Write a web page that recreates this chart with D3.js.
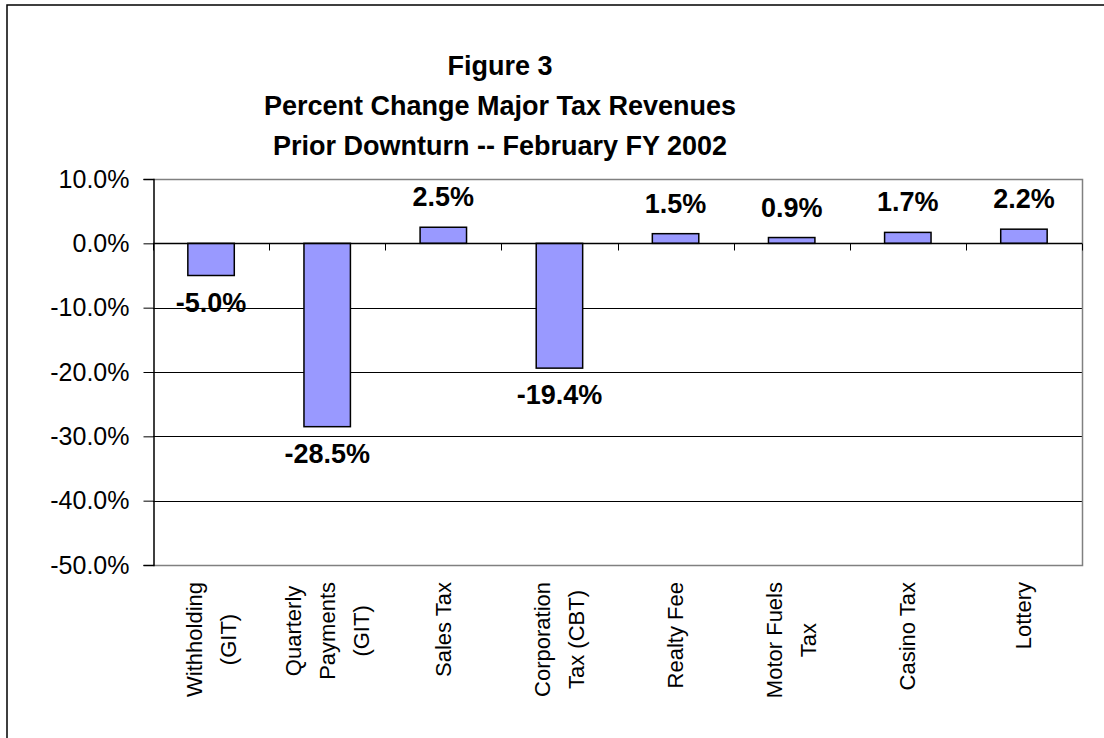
<!DOCTYPE html>
<html>
<head>
<meta charset="utf-8">
<script src="https://cdn.jsdelivr.net/npm/d3@7"></script>
<style>
  html, body { margin: 0; padding: 0; background: #fff; }
  svg { display: block; }
  text { font-family: Arial, "Liberation Sans", Helvetica, sans-serif; fill: #000; }
</style>
</head>
<body>
<svg id="chart" width="1104" height="738"></svg>
<script>
// Revenue categories (multi-line labels) and their percent change
const categories = [
  "Withholding (GIT)", "Quarterly Payments (GIT)", "Sales Tax", "Corporation Tax (CBT)",
  "Realty Fee", "Motor Fuels Tax", "Casino Tax", "Lottery"
];
const categoryLines = [
  ["Withholding", "(GIT)"],
  ["Quarterly", "Payments", "(GIT)"],
  ["Sales Tax"],
  ["Corporation", "Tax (CBT)"],
  ["Realty Fee"],
  ["Motor Fuels", "Tax"],
  ["Casino Tax"],
  ["Lottery"]
];
const percentChange = [-5.0, -28.5, 2.5, -19.4, 1.5, 0.9, 1.7, 2.2];
const yTicks = [10, 0, -10, -20, -30, -40, -50];
const titleLines = [
  "Figure 3",
  "Percent Change Major Tax Revenues",
  "Prior Downturn -- February FY 2002"
];

const svg = d3.select("#chart");

// Plot area bounds
const plotLeft = 153, plotRight = 1082, plotTop = 179, plotBottom = 565;

const x = d3.scaleBand()
  .domain(categories)
  .range([plotLeft, plotRight])
  .paddingInner(0.6)
  .paddingOuter(0.3);

const y = d3.scaleLinear().domain([-50, 10]).range([plotBottom, plotTop]);

// Percent format with a plain hyphen for negatives
const locale = d3.formatLocale({ decimal: ".", thousands: ",", grouping: [3], currency: ["$", ""], minus: "-" });
const fmt = v => locale.format(".1f")(v) + "%";

// Outer chart frame
svg.append("rect")
  .attr("x", 7).attr("y", 5)
  .attr("width", 1130).attr("height", 780)
  .attr("fill", "none").attr("stroke", "#000").attr("stroke-width", 1.5);

// Title
svg.append("g").selectAll("text")
  .data(titleLines)
  .join("text")
  .attr("x", 500)
  .attr("y", (d, i) => 75 + i * 40)
  .attr("text-anchor", "middle")
  .attr("font-size", 27)
  .attr("font-weight", "bold")
  .text(d => d);

// Horizontal gridlines
svg.append("g").selectAll("line")
  .data(yTicks.filter(t => t !== 10 && t !== -50 && t !== 0))
  .join("line")
  .attr("x1", plotLeft).attr("x2", plotRight)
  .attr("y1", d => Math.round(y(d)) + 0.5).attr("y2", d => Math.round(y(d)) + 0.5)
  .attr("stroke", "#000").attr("stroke-width", 1);

// Plot area border (top, right, bottom)
svg.append("path")
  .attr("d", `M${plotLeft},${plotTop + 0.5}H${plotRight + 0.5}V${plotBottom + 0.5}H${plotLeft}`)
  .attr("fill", "none").attr("stroke", "#808080").attr("stroke-width", 1.5);

// Y axis
const yAxis = d3.axisLeft(y)
  .tickValues(yTicks)
  .tickSize(10)
  .tickPadding(14)
  .tickFormat(fmt);

const gy = svg.append("g")
  .attr("transform", `translate(${plotLeft + 0.5},0)`)
  .call(yAxis);
gy.select(".domain").attr("stroke", "#000").attr("stroke-width", 1.5);
gy.selectAll(".tick line").attr("stroke", "#000").attr("stroke-width", 1);
gy.selectAll(".tick text")
  .attr("font-size", 25)
  .attr("font-family", "Arial, 'Liberation Sans', sans-serif")
  .attr("fill", "#000");

// Bars
svg.append("g").selectAll("rect")
  .data(percentChange)
  .join("rect")
  .attr("x", (d, i) => x(categories[i]))
  .attr("width", x.bandwidth())
  .attr("y", d => y(Math.max(0, d)))
  .attr("height", d => Math.abs(y(d) - y(0)))
  .attr("fill", "#9999FF")
  .attr("stroke", "#000")
  .attr("stroke-width", 1.5);

// Category axis along the zero line, with ticks between categories
const step = x.step();
const boundaries = d3.range(categories.length + 1)
  .map(i => plotLeft + i * step);
const y0 = Math.round(y(0)) + 0.5;
svg.append("line")
  .attr("x1", plotLeft).attr("x2", plotRight)
  .attr("y1", y0).attr("y2", y0)
  .attr("stroke", "#000").attr("stroke-width", 1.5);
svg.append("g").selectAll("line")
  .data(boundaries)
  .join("line")
  .attr("x1", d => Math.round(d) + 0.5).attr("x2", d => Math.round(d) + 0.5)
  .attr("y1", y0).attr("y2", y0 + 7)
  .attr("stroke", "#000").attr("stroke-width", 1);

// Value labels
svg.append("g").selectAll("text")
  .data(percentChange)
  .join("text")
  .attr("x", (d, i) => x(categories[i]) + x.bandwidth() / 2)
  .attr("y", d => d >= 0 ? y(d) - 21 : y(d) + 36)
  .attr("text-anchor", "middle")
  .attr("font-size", 27)
  .attr("font-weight", "bold")
  .text(fmt);

// Rotated category labels, top-aligned blocks with centred lines
const labelTop = 582;
const lineGap = 34;
const labelGroups = svg.append("g").selectAll("g")
  .data(categoryLines)
  .join("g");

labelGroups.each(function (lines, i) {
  const g = d3.select(this);
  const cx = x(categories[i]) + x.bandwidth() / 2;
  const texts = g.selectAll("text")
    .data(lines)
    .join("text")
    .attr("font-size", 22)
    .attr("text-anchor", "middle")
    .attr("dominant-baseline", "central")
    .attr("x", 0)
    .attr("y", (d, j) => (j - (lines.length - 1) / 2) * lineGap)
    .text(d => d);
  let maxLen = 0;
  texts.each(function () { maxLen = Math.max(maxLen, this.getComputedTextLength()); });
  g.attr("transform", `translate(${cx},${labelTop + maxLen / 2}) rotate(-90)`);
});
</script>
</body>
</html>
